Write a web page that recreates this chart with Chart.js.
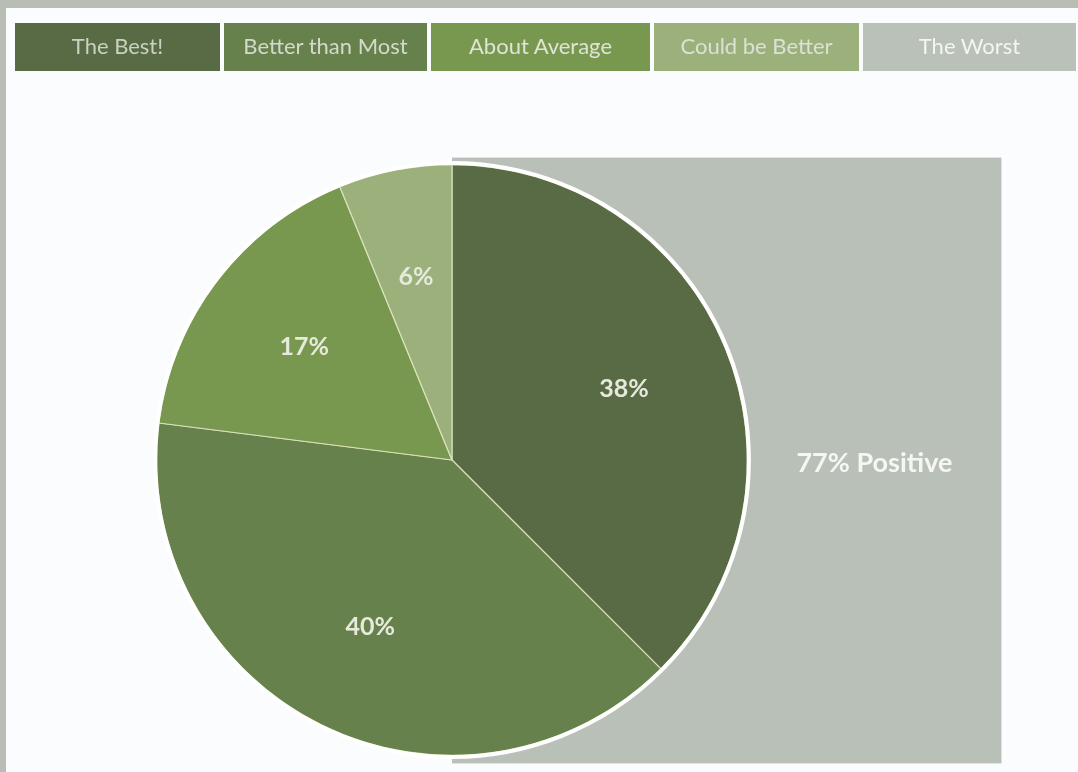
<!DOCTYPE html>
<html>
<head>
<meta charset="utf-8">
<script src="https://cdn.jsdelivr.net/npm/chart.js@4.4.0/dist/chart.umd.min.js"></script>
<style>
html, body { margin: 0; padding: 0; }
body { width: 1078px; height: 772px; background: #fbfcfd; position: relative; overflow: hidden; font-family: Lato, "Noto Sans", sans-serif; }
#frameTop { position: absolute; left: 0; top: 0; width: 1078px; height: 8px; background: #b8beb6; }
#frameLeft { position: absolute; left: 0; top: 0; width: 6px; height: 772px; background: #b8beb6; }
#legend { position: absolute; left: 15px; top: 23px; height: 48px; display: flex; gap: 4px; z-index: 2; }
#legend div { height: 48px; line-height: 46px; text-align: center; font-size: 22px; }
#chart { position: absolute; left: 0; top: 0; }
</style>
</head>
<body>
<div id="frameTop"></div>
<div id="frameLeft"></div>
<div id="legend"></div>
<canvas id="chart" width="1078" height="772"></canvas>
<script>
// survey answers, share of responses (%)
var categories = ["The Best!", "Better than Most", "About Average", "Could be Better", "The Worst"];
var shares = [37.5, 39.5, 16.8, 6.2, 0];
var sliceColors = ["#586b45", "#66814b", "#79984f", "#9bb07a", "#bac1b8"];
var labelColors = ["#cbd1c1", "#d4dacb", "#dfe4d6", "#dbe1d4", "#f4f6f2"];
var legendWidths = [205, 203, 219, 205, 213];

// legend boxes
var legend = document.getElementById("legend");
categories.forEach(function(name, i) {
    var box = document.createElement("div");
    box.textContent = name;
    box.style.width = legendWidths[i] + "px";
    box.style.background = sliceColors[i];
    box.style.color = labelColors[i];
    legend.appendChild(box);
});

var backdrop = {
    id: "backdrop",
    beforeDatasetsDraw(chart) {
        var arc = chart.getDatasetMeta(0).data[0];
        var ctx = chart.ctx;
        var r = arc.outerRadius;
        ctx.save();
        ctx.fillStyle = "#b9c0b7";
        ctx.fillRect(arc.x, arc.y - r - 7, r * 1.86, 2 * r + 15);
        ctx.restore();
    },
    afterDatasetsDraw(chart) {
        var meta = chart.getDatasetMeta(0);
        var arc0 = meta.data[0];
        var cx = arc0.x, cy = arc0.y, r = arc0.outerRadius;
        var ctx = chart.ctx;
        ctx.save();
        // white rim
        ctx.beginPath();
        ctx.arc(cx, cy, r + 1.5, 0, Math.PI * 2);
        ctx.lineWidth = 4;
        ctx.strokeStyle = "#ffffff";
        ctx.stroke();
        // slice labels
        ctx.font = "bold 25px Lato, sans-serif";
        ctx.textAlign = "center";
        ctx.textBaseline = "middle";
        ctx.fillStyle = "#e6eadc";
        meta.data.forEach(function(a, i) {
            if (!shares[i]) return;
            var mid = (a.startAngle + a.endAngle) / 2;
            ctx.fillText(Math.round(shares[i]) + "%", cx + Math.cos(mid) * r * 0.63, cy + Math.sin(mid) * r * 0.63);
        });
        // positive summary
        var positive = shares[0] + shares[1];
        ctx.fillStyle = "#f5f7f3";
        ctx.font = "bold 27px Lato, sans-serif";
        ctx.fillText(Math.round(positive) + "% Positive", (cx + r + cx + r * 1.86) / 2, cy + 3);
        ctx.restore();
    }
};

new Chart("chart", {
    type: "pie",
    data: {
        labels: categories,
        datasets: [{
            data: shares,
            backgroundColor: sliceColors,
            borderColor: "rgba(222,230,190,0.9)",
            borderWidth: 1.2,
            offset: 0,
            hoverOffset: 0
        }]
    },
    options: {
        responsive: false,
        animation: false,
        layout: { padding: { left: 156, right: 330, top: 164, bottom: 16 } },
        plugins: {
            legend: { display: false },
            tooltip: { enabled: false }
        }
    },
    plugins: [backdrop]
});
</script>
</body>
</html>
